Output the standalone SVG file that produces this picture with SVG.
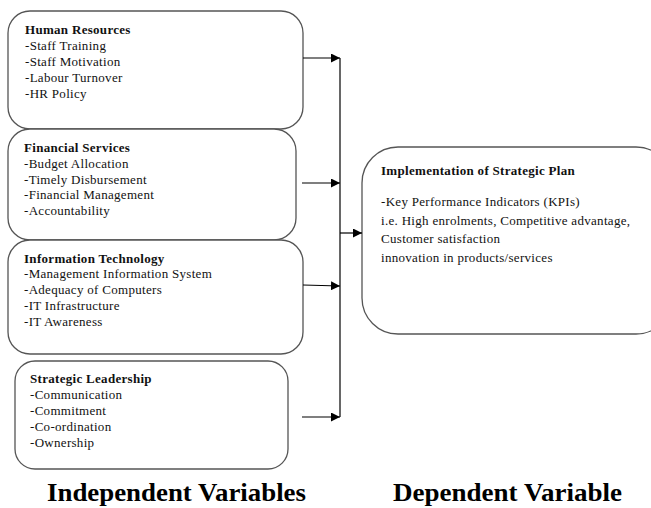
<svg xmlns="http://www.w3.org/2000/svg" width="651" height="508" viewBox="0 0 651 508">
<style>
.box{fill:#fff;stroke:#555;stroke-width:1.3}
.t{font-family:"Liberation Serif","Times New Roman",serif;font-size:13px;letter-spacing:0.3px;fill:#111}
.b{font-weight:bold}
.h{font-family:"Liberation Serif","Times New Roman",serif;font-size:26px;font-weight:bold;fill:#000}
.c{stroke:#000;stroke-width:1.2;fill:none}
</style>
<defs>
<marker id="ah" viewBox="0 0 10 10" refX="10" refY="5" markerWidth="9" markerHeight="9" markerUnits="userSpaceOnUse" orient="auto">
<path d="M0,0 L10,5 L0,10 z" fill="#000"/>
</marker>
</defs>
<rect width="651" height="508" fill="#fff"/>
<g id="hr">
<rect class="box" x="8" y="11" width="295" height="118" rx="22"/>
<text class="t b" x="25" y="34">Human Resources</text>
<text class="t" x="25" y="50">-Staff Training</text>
<text class="t" x="25" y="66">-Staff Motivation</text>
<text class="t" x="25" y="82">-Labour Turnover</text>
<text class="t" x="25" y="98">-HR Policy</text>
</g>
<g id="fin">
<rect class="box" x="8" y="129" width="288" height="111" rx="22"/>
<text class="t b" x="24" y="152">Financial Services</text>
<text class="t" x="24" y="168">-Budget Allocation</text>
<text class="t" x="24" y="184">-Timely Disbursement</text>
<text class="t" x="24" y="199">-Financial Management</text>
<text class="t" x="24" y="215">-Accountability</text>
</g>
<g id="it">
<rect class="box" x="8" y="240" width="295" height="114" rx="22"/>
<text class="t b" x="24" y="263">Information Technology</text>
<text class="t" x="24" y="278">-Management Information System</text>
<text class="t" x="24" y="294">-Adequacy of Computers</text>
<text class="t" x="24" y="310">-IT Infrastructure</text>
<text class="t" x="24" y="326">-IT Awareness</text>
</g>
<g id="sl">
<rect class="box" x="15" y="361" width="273" height="108" rx="20"/>
<text class="t b" x="30" y="383">Strategic Leadership</text>
<text class="t" x="30" y="399">-Communication</text>
<text class="t" x="30" y="415">-Commitment</text>
<text class="t" x="30" y="431">-Co-ordination</text>
<text class="t" x="30" y="447">-Ownership</text>
</g>
<g id="isp">
<rect class="box" x="362" y="147" width="310" height="187" rx="36"/>
<text class="t b" x="381" y="175">Implementation of Strategic Plan</text>
<text class="t" x="381" y="206">-Key Performance Indicators (KPIs)</text>
<text class="t" x="381" y="225">i.e.  High enrolments, Competitive advantage,</text>
<text class="t" x="381" y="243">Customer satisfaction</text>
<text class="t" x="381" y="262">innovation in products/services</text>
</g>
<g id="connectors">
<line class="c" x1="340" y1="58" x2="340" y2="417"/>
<line class="c" x1="303" y1="58" x2="340" y2="58" marker-end="url(#ah)"/>
<line class="c" x1="302" y1="183" x2="340" y2="183" marker-end="url(#ah)"/>
<line class="c" x1="303" y1="285" x2="340" y2="286" marker-end="url(#ah)"/>
<line class="c" x1="302" y1="417" x2="340" y2="417" marker-end="url(#ah)"/>
<line class="c" x1="340" y1="233" x2="362" y2="233" marker-end="url(#ah)"/>
</g>
<text class="h" x="47" y="501" textLength="259" lengthAdjust="spacingAndGlyphs">Independent Variables</text>
<text class="h" x="393" y="501" textLength="229" lengthAdjust="spacingAndGlyphs">Dependent Variable</text>
</svg>
